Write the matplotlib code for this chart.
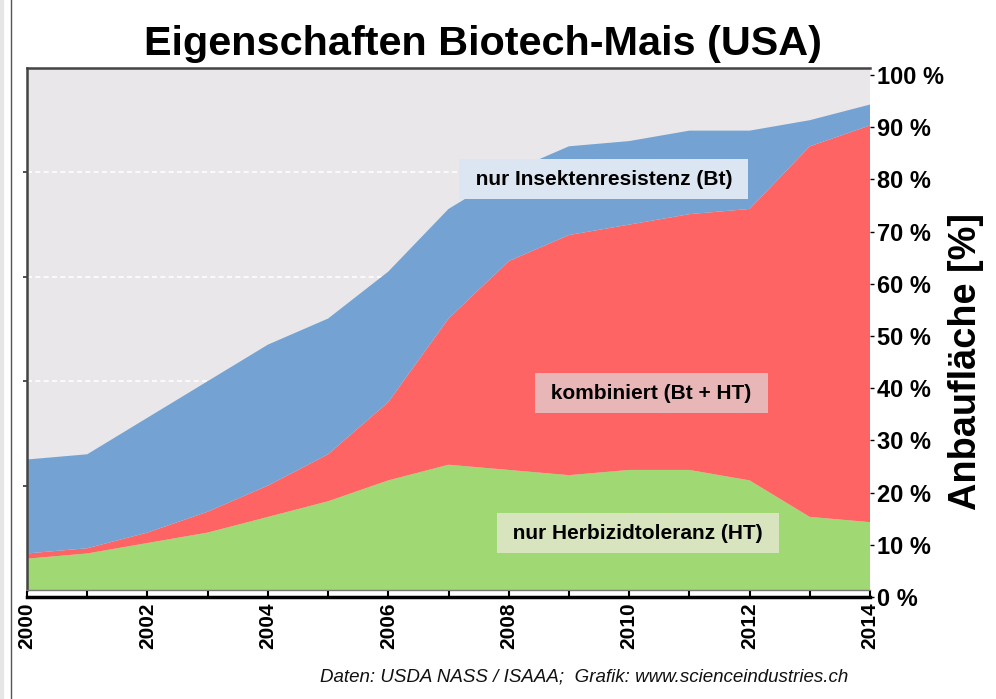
import matplotlib
matplotlib.use("Agg")
import matplotlib.pyplot as plt
from matplotlib.lines import Line2D
import numpy as np

plt.rcParams['font.family'] = ['Liberation Sans', 'DejaVu Sans']

# Anbauflaeche Biotech-Mais USA in % (USDA NASS)
years = [2000, 2001, 2002, 2003, 2004, 2005, 2006, 2007,
         2008, 2009, 2010, 2011, 2012, 2013, 2014]
ht_only = [6, 7, 9, 11, 14, 17, 21, 24, 23, 22, 23, 23, 21, 14, 13]
stacked = [1, 1, 2, 4, 6, 9, 15, 28, 40, 46, 47, 49, 52, 71, 76]
bt_only = [18, 18, 22, 25, 27, 26, 25, 21, 17, 17, 16, 16, 15, 5, 4]

pct_ticks = list(range(0, 101, 10))
pct_labels = ['%d %%' % v for v in pct_ticks]
year_labels = [str(y) if y % 2 == 0 else '' for y in years]

series_labels = ['nur Herbizidtoleranz (HT)', 'kombiniert (Bt + HT)',
                 'nur Insektenresistenz (Bt)']
colors = ['#A0D874', '#FF6464', '#74A3D3']
box_colors = ['#D7E4BD', '#E8B6B6', '#DCE6F2']
label_pos = [(2010.15, 10.9), (2010.37, 37.7), (2009.58, 78.7)]

W, H = 996, 699
fig = plt.figure(figsize=(W / 100, H / 100), dpi=100)

# main plot area
left, right, top, bottom = 27, 870, 68, 590
pos = [left / W, 1 - bottom / H, (right - left) / W, (bottom - top) / H]
ax = fig.add_axes(pos)
ax.set_facecolor('#E9E7E9')
ax.stackplot(years, ht_only, stacked, bt_only, colors=colors, linewidth=0)
ax.set_xlim(2000, 2014)
ax.set_ylim(0, 100)
ax.set_axisbelow(True)
ax.set_yticks([20, 40, 60, 80])
ax.yaxis.grid(True, color='white', linestyle=(0, (3, 2)), linewidth=1.2)
ax.set_yticklabels([])
ax.tick_params(axis='y', length=3, width=1.2, color='#333333')
ax.set_xticks([])
for s in ['left', 'top']:
    ax.spines[s].set_color('#444444')
    ax.spines[s].set_linewidth(1.8)
ax.spines['bottom'].set_color('#777777')
ax.spines['bottom'].set_linewidth(1)
ax.spines['right'].set_visible(False)

for lab, (x, y), bc in zip(series_labels, label_pos, box_colors):
    ax.text(x, y, ' ' + lab + ' ', fontsize=15, fontweight='bold', ha='center',
            va='center', bbox=dict(boxstyle='square,pad=0.5', fc=bc, ec='none'))

# overlay axis shifted a few pixels down (tick labels + black base line)
shift = 7
pos2 = [left / W, 1 - (bottom + shift) / H, (right - left) / W, (bottom - top) / H]
ax2 = fig.add_axes(pos2, facecolor='none')
ax2.set_xlim(2000, 2014)
ax2.set_ylim(0, 100)
for s in ['left', 'top', 'right']:
    ax2.spines[s].set_visible(False)
ax2.spines['bottom'].set_color('black')
ax2.spines['bottom'].set_linewidth(2.5)
ax2.set_xticks(years)
ax2.set_xticklabels(year_labels, rotation=90, fontsize=15, fontweight='bold')
ax2.tick_params(axis='x', direction='in', length=4, width=1.5, pad=4)
ax2.yaxis.tick_right()
ax2.set_yticks(pct_ticks)
ax2.set_yticklabels(pct_labels, fontsize=17, fontweight='bold')
ax2.tick_params(axis='y', direction='out', length=3, width=1, pad=2)

fig.text(483 / W, 1 - 55 / H, 'Eigenschaften Biotech-Mais (USA)',
         fontsize=29.8, fontweight='bold', ha='center', va='baseline')
fig.text(966 / W, 1 - 362 / H, 'Anbaufläche [%]', fontsize=27.3,
         fontweight='bold', rotation=90, ha='center', va='center')
fig.text(848 / W, 1 - 681 / H,
         'Daten: USDA NASS / ISAAA;  Grafik: www.scienceindustries.ch',
         fontsize=13.5, style='italic', ha='right', va='baseline', color='#111111')

# page border at the left edge
fig.add_artist(Line2D([11 / W, 11 / W], [0, 1], color='#555555', linewidth=1))
fig.add_artist(Line2D([1.5 / W, 1.5 / W], [0, 1], color='#E6E6E6', linewidth=3))

fig.savefig('out.png', dpi=100)
